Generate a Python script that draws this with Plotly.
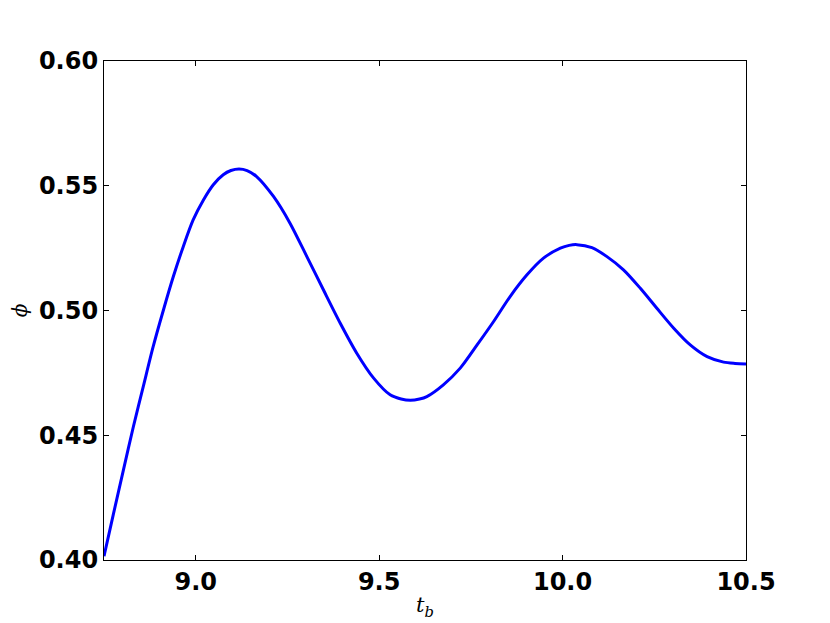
import plotly.graph_objects as go

t_b = [8.750, 8.775, 8.803, 8.830, 8.857, 8.884, 8.912, 8.939, 8.966, 8.993,
       9.021, 9.048, 9.075, 9.096, 9.118, 9.140, 9.166, 9.212, 9.257, 9.303,
       9.348, 9.394, 9.439, 9.485, 9.530, 9.560, 9.585, 9.610, 9.630, 9.675,
       9.721, 9.767, 9.812, 9.857, 9.903, 9.948, 9.994, 10.018, 10.039,
       10.080, 10.121, 10.166, 10.212, 10.257, 10.303, 10.348, 10.394, 10.439,
       10.470, 10.500]
phi = [0.4015, 0.4180, 0.4361, 0.4534, 0.4695, 0.4855, 0.5002, 0.5136, 0.5256, 0.5363,
       0.5443, 0.5504, 0.5544, 0.5561, 0.5567, 0.5561, 0.5537, 0.5457, 0.5350, 0.5216,
       0.5083, 0.4949, 0.4829, 0.4729, 0.4662, 0.4645, 0.4640, 0.4645, 0.4655, 0.4702,
       0.4769, 0.4862, 0.4956, 0.5056, 0.5143, 0.5210, 0.5250, 0.5261, 0.5264,
       0.5252, 0.5216, 0.5163, 0.5089, 0.5009, 0.4929, 0.4862, 0.4815, 0.4793,
       0.4788, 0.4786]

x_ticks = [9.0, 9.5, 10.0, 10.5]
x_ticklabels = ["9.0", "9.5", "10.0", "10.5"]
y_ticks = [0.40, 0.45, 0.50, 0.55, 0.60]
y_ticklabels = ["0.40", "0.45", "0.50", "0.55", "0.60"]

fig = go.Figure()
fig.add_trace(go.Scatter(x=t_b, y=phi, mode="lines",
                         line=dict(color="#0000FF", width=3, shape="spline", smoothing=0.8),
                         showlegend=False, hoverinfo="skip"))

tickfont = dict(family="DejaVu Sans", size=24, color="black", weight="bold")
axis_common = dict(showgrid=False, zeroline=False, showline=True, linecolor="black",
                   linewidth=1.2, mirror="ticks", ticks="inside", ticklen=5,
                   tickwidth=1, tickcolor="black", tickfont=tickfont, automargin=False)

fig.update_layout(
    width=830, height=623,
    margin=dict(l=96, r=92, t=53, b=71),
    plot_bgcolor="white", paper_bgcolor="white",
    xaxis=dict(range=[8.75, 10.5], tickvals=x_ticks, ticktext=x_ticklabels,
               title=dict(text="<i>t</i><sub><i>b</i></sub>",
                          font=dict(family="DejaVu Serif", size=21, color="black"),
                          standoff=2),
               **axis_common),
    yaxis=dict(range=[0.40, 0.60], tickvals=y_ticks, ticktext=y_ticklabels,
               title=dict(text="<i>ϕ</i>",
                          font=dict(family="DejaVu Serif", size=20, color="black"),
                          standoff=9),
               **axis_common),
)

fig.write_html("out.html")
